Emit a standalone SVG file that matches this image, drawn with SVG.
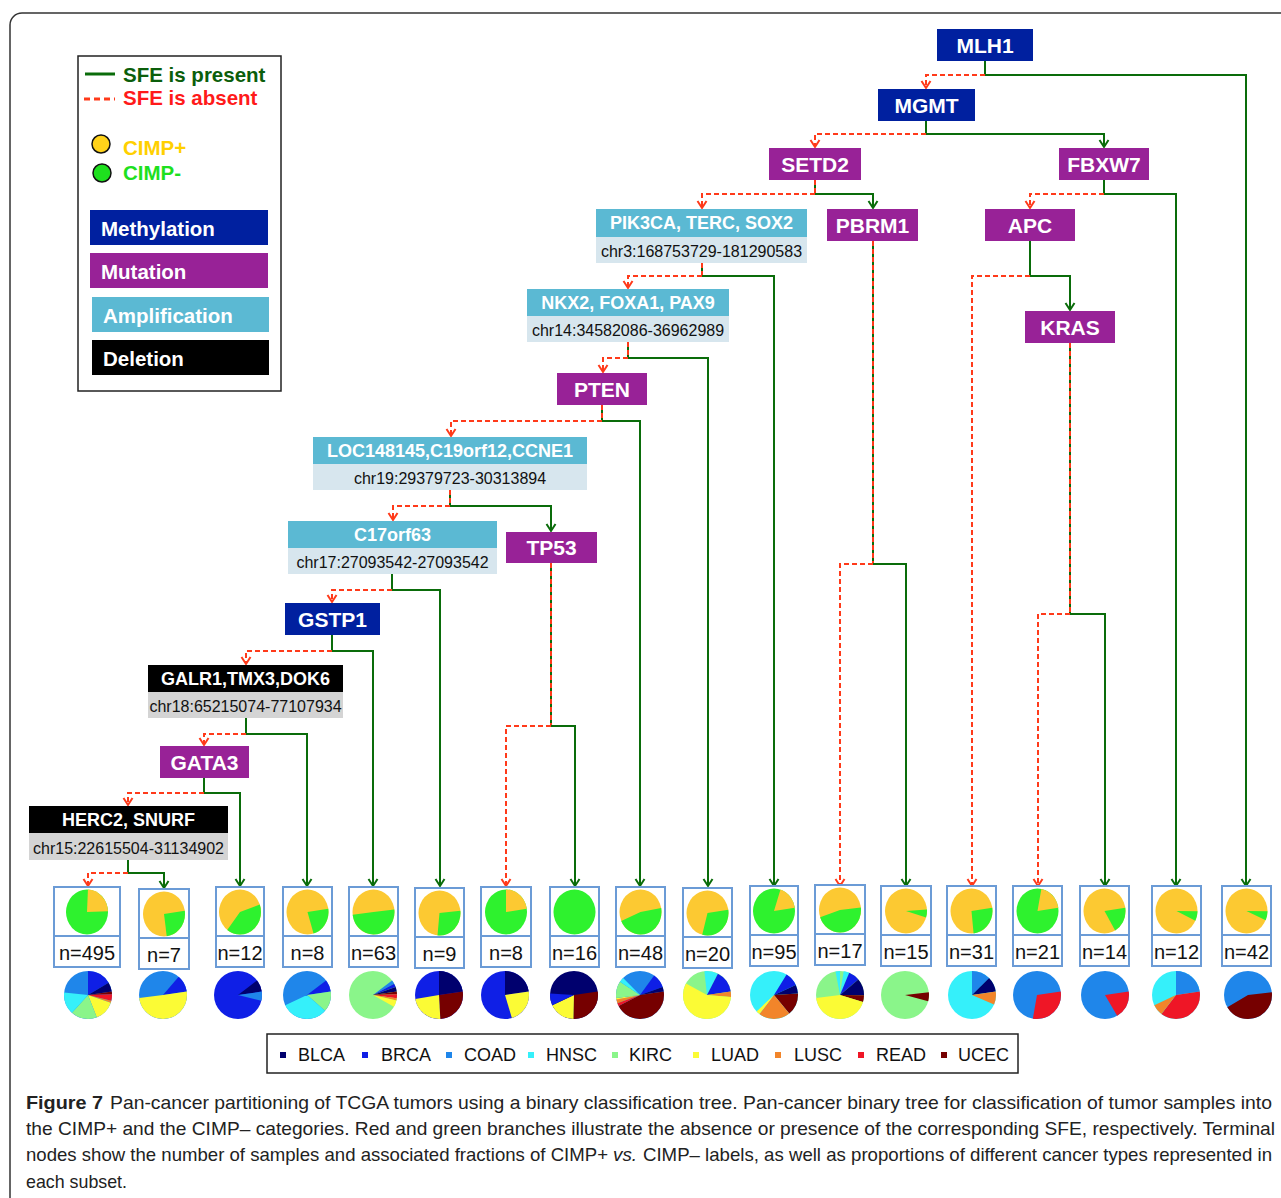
<svg xmlns="http://www.w3.org/2000/svg" width="1281" height="1198" viewBox="0 0 1281 1198">
<defs>
<style>
text{font-family:"Liberation Sans",Arial,Helvetica,sans-serif}
.nt{font-weight:bold;font-size:21px;fill:#fff;text-anchor:middle}
.ht{font-weight:bold;font-size:18px;fill:#fff;text-anchor:middle}
.ct{font-size:16px;fill:#111;text-anchor:middle}
.meth{fill:#00209f}.mut{fill:#982297}.amp{fill:#5bb9d3}.ampl{fill:#d7e6ee}.del{fill:#000}.dell{fill:#d4d4d4}
.g{fill:none;stroke:#0a6c0a;stroke-width:2}
.r{fill:none;stroke:#ff3a1a;stroke-width:2;stroke-dasharray:5 3}
.lb{fill:#fff;stroke:#6b9bd6;stroke-width:2}
.nl{font-size:20px;fill:#111;text-anchor:middle}
.s{fill:none;stroke-width:1}
.bl{stroke:#00006e}.br{stroke:#0f1fe6}.co{stroke:#1f86ea}.hn{stroke:#35f0fa}.ki{stroke:#8af58a}.lu{stroke:#fbfb35}.ls{stroke:#f2852a}.re{stroke:#ef1626}.uc{stroke:#760000}.cy{stroke:#fcc932}.cg{stroke:#2ef22e}
.lg{font-size:18px;fill:#111}
.cap{font-size:18.5px;fill:#222}
</style>
<marker id="ag" markerUnits="userSpaceOnUse" markerWidth="10" markerHeight="12" viewBox="-8 -6 10 12" refX="0" refY="0" orient="auto"><path d="M-7,-4.5 L0,0 L-7,4.5" fill="none" stroke="#0a6c0a" stroke-width="2"/></marker>
<marker id="ar" markerUnits="userSpaceOnUse" markerWidth="10" markerHeight="12" viewBox="-8 -6 10 12" refX="0" refY="0" orient="auto"><path d="M-7,-4.5 L0,0 L-7,4.5" fill="none" stroke="#ff3a1a" stroke-width="2"/></marker>
</defs>
<rect width="1281" height="1198" fill="#fff"/>
<rect x="10" y="13" width="1300" height="1300" rx="12" fill="none" stroke="#333" stroke-width="1.5"/>

<g id="legend">
<rect x="78" y="56" width="203" height="335" fill="#fff" stroke="#222" stroke-width="1.5"/>
<line x1="85" y1="74" x2="115" y2="74" stroke="#0a6c0a" stroke-width="3"/>
<text x="123" y="82" font-size="20.5" font-weight="bold" fill="#0b5e0b">SFE is present</text>
<line x1="84" y1="99" x2="115" y2="99" stroke="#ff3a1a" stroke-width="3" stroke-dasharray="6 4"/>
<text x="123" y="105" font-size="20.5" font-weight="bold" fill="#ff1a1a">SFE is absent</text>
<circle cx="101" cy="144" r="9" fill="#ffd21a" stroke="#111" stroke-width="1.5"/>
<text x="123" y="155" font-size="20.5" font-weight="bold" fill="#ffd000">CIMP+</text>
<circle cx="102" cy="173" r="9" fill="#1ee01e" stroke="#111" stroke-width="1.5"/>
<text x="123" y="180" font-size="20.5" font-weight="bold" fill="#1ee01e">CIMP-</text>
<rect x="90" y="210" width="178" height="35" class="meth"/>
<text x="101" y="236" font-size="20.5" font-weight="bold" fill="#fff">Methylation</text>
<rect x="90" y="253" width="178" height="35" class="mut"/>
<text x="101" y="279" font-size="20.5" font-weight="bold" fill="#fff">Mutation</text>
<rect x="92" y="297" width="177" height="35" class="amp"/>
<text x="103" y="323" font-size="20.5" font-weight="bold" fill="#fff">Amplification</text>
<rect x="92" y="340" width="177" height="35" class="del"/>
<text x="103" y="366" font-size="20.5" font-weight="bold" fill="#fff">Deletion</text>
</g>

<g id="connectors">
<path class="g" d="M985,61 V75"/>
<path class="r" d="M985,75 H926 V88" marker-end="url(#ar)"/>
<path class="g" d="M985,75 H1246 V886" marker-end="url(#ag)"/>
<path class="g" d="M926,121 V134"/>
<path class="r" d="M926,134 H815 V147" marker-end="url(#ar)"/>
<path class="g" d="M926,134 H1104 V147" marker-end="url(#ag)"/>
<path class="g" d="M815,180 V194"/><path class="r" d="M815,180 V194"/>
<path class="r" d="M815,194 H702 V208" marker-end="url(#ar)"/>
<path class="g" d="M815,194 H873 V208" marker-end="url(#ag)"/>
<path class="g" d="M1104,180 V194"/>
<path class="r" d="M1104,194 H1030 V208" marker-end="url(#ar)"/>
<path class="g" d="M1104,194 H1176 V886" marker-end="url(#ag)"/>
<path class="g" d="M702,263 V276"/><path class="r" d="M702,263 V276"/>
<path class="r" d="M702,276 H628 V288" marker-end="url(#ar)"/>
<path class="g" d="M702,276 H774 V886" marker-end="url(#ag)"/>
<path class="g" d="M873,241 V564"/><path class="r" d="M873,241 V564"/>
<path class="r" d="M873,564 H840 V886" marker-end="url(#ar)"/>
<path class="g" d="M873,564 H906 V886" marker-end="url(#ag)"/>
<path class="g" d="M1030,241 V276"/>
<path class="r" d="M1030,276 H972 V886" marker-end="url(#ar)"/>
<path class="g" d="M1030,276 H1070 V310" marker-end="url(#ag)"/>
<path class="g" d="M1070,343 V614"/><path class="r" d="M1070,343 V614"/>
<path class="r" d="M1070,614 H1038 V886" marker-end="url(#ar)"/>
<path class="g" d="M1070,614 H1105 V886" marker-end="url(#ag)"/>
<path class="g" d="M628,342 V358"/><path class="r" d="M628,342 V358"/>
<path class="r" d="M628,358 H603 V372" marker-end="url(#ar)"/>
<path class="g" d="M628,358 H708 V886" marker-end="url(#ag)"/>
<path class="g" d="M602,405 V421"/><path class="r" d="M602,405 V421"/>
<path class="r" d="M602,421 H451 V436" marker-end="url(#ar)"/>
<path class="g" d="M602,421 H640 V886" marker-end="url(#ag)"/>
<path class="g" d="M450,490 V506"/><path class="r" d="M450,490 V506"/>
<path class="r" d="M450,506 H393 V520" marker-end="url(#ar)"/>
<path class="g" d="M450,506 H551 V531" marker-end="url(#ag)"/>
<path class="g" d="M551,563 V726"/><path class="r" d="M551,563 V726"/>
<path class="r" d="M551,726 H506 V886" marker-end="url(#ar)"/>
<path class="g" d="M551,726 H575 V886" marker-end="url(#ag)"/>
<path class="g" d="M392,574 V590"/>
<path class="r" d="M392,590 H332 V602" marker-end="url(#ar)"/>
<path class="g" d="M392,590 H440 V886" marker-end="url(#ag)"/>
<path class="g" d="M332,635 V651"/>
<path class="r" d="M332,651 H246 V664" marker-end="url(#ar)"/>
<path class="g" d="M332,651 H373 V886" marker-end="url(#ag)"/>
<path class="g" d="M246,718 V734"/>
<path class="r" d="M246,734 H204 V745" marker-end="url(#ar)"/>
<path class="g" d="M246,734 H307 V886" marker-end="url(#ag)"/>
<path class="g" d="M204,778 V793"/>
<path class="r" d="M204,793 H128 V805" marker-end="url(#ar)"/>
<path class="g" d="M204,793 H240 V886" marker-end="url(#ag)"/>
<path class="g" d="M128,860 V873"/>
<path class="r" d="M128,873 H88 V886" marker-end="url(#ar)"/>
<path class="g" d="M128,873 H164 V888" marker-end="url(#ag)"/>
</g>

<g id="n-MLH1"><rect x="937" y="29" width="96" height="32" class="meth"/><text x="985" y="53" class="nt">MLH1</text></g>
<g id="n-MGMT"><rect x="878" y="89" width="97" height="32" class="meth"/><text x="926.5" y="113" class="nt">MGMT</text></g>
<g id="n-SETD2"><rect x="769" y="148" width="92" height="32" class="mut"/><text x="815" y="172" class="nt">SETD2</text></g>
<g id="n-FBXW7"><rect x="1059" y="148" width="90" height="32" class="mut"/><text x="1104" y="172" class="nt">FBXW7</text></g>
<g id="n-PIK3CA"><rect x="596" y="209" width="211" height="28" class="amp"/><rect x="596" y="237" width="211" height="26" class="ampl"/><text x="701.5" y="229" class="ht">PIK3CA, TERC, SOX2</text><text x="701.5" y="257" class="ct">chr3:168753729-181290583</text></g>
<g id="n-PBRM1"><rect x="827" y="209" width="91" height="32" class="mut"/><text x="872.5" y="233" class="nt">PBRM1</text></g>
<g id="n-APC"><rect x="985" y="209" width="90" height="32" class="mut"/><text x="1030" y="233" class="nt">APC</text></g>
<g id="n-KRAS"><rect x="1025" y="311" width="90" height="32" class="mut"/><text x="1070" y="335" class="nt">KRAS</text></g>
<g id="n-NKX2"><rect x="527" y="289" width="202" height="27" class="amp"/><rect x="527" y="316" width="202" height="26" class="ampl"/><text x="628" y="309" class="ht">NKX2, FOXA1, PAX9</text><text x="628" y="336" class="ct">chr14:34582086-36962989</text></g>
<g id="n-PTEN"><rect x="557" y="373" width="90" height="32" class="mut"/><text x="602" y="397" class="nt">PTEN</text></g>
<g id="n-LOC"><rect x="313" y="437" width="274" height="27" class="amp"/><rect x="313" y="464" width="274" height="26" class="ampl"/><text x="450" y="457" class="ht">LOC148145,C19orf12,CCNE1</text><text x="450" y="484" class="ct">chr19:29379723-30313894</text></g>
<g id="n-TP53"><rect x="506" y="532" width="91" height="31" class="mut"/><text x="551.5" y="555" class="nt">TP53</text></g>
<g id="n-C17orf63"><rect x="288" y="521" width="209" height="27" class="amp"/><rect x="288" y="548" width="209" height="26" class="ampl"/><text x="392.5" y="541" class="ht">C17orf63</text><text x="392.5" y="568" class="ct">chr17:27093542-27093542</text></g>
<g id="n-GSTP1"><rect x="285" y="603" width="95" height="32" class="meth"/><text x="332.5" y="627" class="nt">GSTP1</text></g>
<g id="n-GALR1"><rect x="148" y="665" width="195" height="27" class="del"/><rect x="148" y="692" width="195" height="26" class="dell"/><text x="245.5" y="685" class="ht">GALR1,TMX3,DOK6</text><text x="245.5" y="712" class="ct">chr18:65215074-77107934</text></g>
<g id="n-GATA3"><rect x="160" y="746" width="89" height="32" class="mut"/><text x="204.5" y="770" class="nt">GATA3</text></g>
<g id="n-HERC2"><rect x="29" y="806" width="199" height="27" class="del"/><rect x="29" y="833" width="199" height="27" class="dell"/><text x="128.5" y="826" class="ht">HERC2, SNURF</text><text x="128.5" y="854" class="ct">chr15:22615504-31134902</text></g>

<g id="leaf1"><rect x="54" y="887" width="66" height="49" class="lb"/><rect x="54" y="936" width="66" height="31" class="lb"/>
<g transform="translate(87,912) scale(21,22.5) rotate(-90)"><circle r="1" fill="#2ef22e"/><circle r="0.5" pathLength="100" class="s cy" stroke-dasharray="26.11 100" stroke-dashoffset="-0.83"/></g>
<text x="87" y="960" class="nl">n=495</text>
<g transform="translate(88,995) scale(24) rotate(-90)"><circle r="1" fill="#1f86ea"/>
<circle r="0.5" pathLength="100" class="s br" stroke-dasharray="18.06 100" stroke-dashoffset="0"/>
<circle r="0.5" pathLength="100" class="s bl" stroke-dasharray="6.94 100" stroke-dashoffset="-18.06"/>
<circle r="0.5" pathLength="100" class="s uc" stroke-dasharray="1.94 100" stroke-dashoffset="-25"/>
<circle r="0.5" pathLength="100" class="s re" stroke-dasharray="5 100" stroke-dashoffset="-26.94"/>
<circle r="0.5" pathLength="100" class="s ls" stroke-dasharray="1.39 100" stroke-dashoffset="-31.94"/>
<circle r="0.5" pathLength="100" class="s lu" stroke-dasharray="15.28 100" stroke-dashoffset="-33.33"/>
<circle r="0.5" pathLength="100" class="s ki" stroke-dasharray="19.44 100" stroke-dashoffset="-48.61"/>
<circle r="0.5" pathLength="100" class="s hn" stroke-dasharray="16.67 100" stroke-dashoffset="-68.06"/></g></g>

<g id="leaf2"><rect x="139" y="889" width="50" height="49" class="lb"/><rect x="139" y="938" width="50" height="31" class="lb"/>
<g transform="translate(164,914) scale(21,22.5) rotate(-90)"><circle r="1" fill="#fcc932"/><circle r="0.5" pathLength="100" class="s cg" stroke-dasharray="27.78 100" stroke-dashoffset="-25"/></g>
<text x="164" y="962" class="nl">n=7</text>
<g transform="translate(163,995) scale(24) rotate(-90)"><circle r="1" fill="#1f86ea"/>
<circle r="0.5" pathLength="100" class="s br" stroke-dasharray="12.5 100" stroke-dashoffset="-12.5"/>
<circle r="0.5" pathLength="100" class="s lu" stroke-dasharray="55.56 100" stroke-dashoffset="-25"/></g></g>

<g id="leaf3"><rect x="216" y="887" width="48" height="49" class="lb"/><rect x="216" y="936" width="48" height="31" class="lb"/>
<g transform="translate(240,912) scale(21,22.5) rotate(-90)"><circle r="1" fill="#fcc932"/><circle r="0.5" pathLength="100" class="s cg" stroke-dasharray="45 100" stroke-dashoffset="-21.67"/></g>
<text x="240" y="960" class="nl">n=12</text>
<g transform="translate(238,995) scale(24) rotate(-90)"><circle r="1" fill="#0f1fe6"/>
<circle r="0.5" pathLength="100" class="s bl" stroke-dasharray="8.89 100" stroke-dashoffset="-16.11"/>
<circle r="0.5" pathLength="100" class="s co" stroke-dasharray="6.94 100" stroke-dashoffset="-25"/></g></g>

<g id="leaf4"><rect x="283" y="887" width="49" height="49" class="lb"/><rect x="283" y="936" width="49" height="31" class="lb"/>
<g transform="translate(307.5,912) scale(21,22.5) rotate(-90)"><circle r="1" fill="#fcc932"/><circle r="0.5" pathLength="100" class="s cg" stroke-dasharray="25 100" stroke-dashoffset="-25"/></g>
<text x="307.5" y="960" class="nl">n=8</text>
<g transform="translate(307,995) scale(24) rotate(-90)"><circle r="1" fill="#1f86ea"/>
<circle r="0.5" pathLength="100" class="s br" stroke-dasharray="8.89 100" stroke-dashoffset="-16.11"/>
<circle r="0.5" pathLength="100" class="s ki" stroke-dasharray="15.28 100" stroke-dashoffset="-25"/>
<circle r="0.5" pathLength="100" class="s hn" stroke-dasharray="34.72 100" stroke-dashoffset="-40.28"/></g></g>

<g id="leaf5"><rect x="349" y="887" width="49" height="49" class="lb"/><rect x="349" y="936" width="49" height="31" class="lb"/>
<g transform="translate(373.5,912) scale(21,22.5) rotate(-90)"><circle r="1" fill="#fcc932"/><circle r="0.5" pathLength="100" class="s cg" stroke-dasharray="55 100" stroke-dashoffset="-25.56"/></g>
<text x="373.5" y="960" class="nl">n=63</text>
<g transform="translate(373,995) scale(24) rotate(-90)"><circle r="1" fill="#8af58a"/>
<circle r="0.5" pathLength="100" class="s co" stroke-dasharray="2.78 100" stroke-dashoffset="-16.11"/>
<circle r="0.5" pathLength="100" class="s br" stroke-dasharray="2.78 100" stroke-dashoffset="-18.89"/>
<circle r="0.5" pathLength="100" class="s bl" stroke-dasharray="3.33 100" stroke-dashoffset="-21.67"/>
<circle r="0.5" pathLength="100" class="s uc" stroke-dasharray="1.94 100" stroke-dashoffset="-25"/>
<circle r="0.5" pathLength="100" class="s re" stroke-dasharray="3.06 100" stroke-dashoffset="-26.94"/>
<circle r="0.5" pathLength="100" class="s ls" stroke-dasharray="1.67 100" stroke-dashoffset="-30"/>
<circle r="0.5" pathLength="100" class="s lu" stroke-dasharray="5 100" stroke-dashoffset="-31.67"/></g></g>

<g id="leaf6"><rect x="415" y="888" width="49" height="49" class="lb"/><rect x="415" y="937" width="49" height="31" class="lb"/>
<g transform="translate(439.5,913) scale(21,22.5) rotate(-90)"><circle r="1" fill="#fcc932"/><circle r="0.5" pathLength="100" class="s cg" stroke-dasharray="31.11 100" stroke-dashoffset="-25.83"/></g>
<text x="439.5" y="961" class="nl">n=9</text>
<g transform="translate(439,995) scale(24) rotate(-90)"><circle r="1" fill="#0f1fe6"/>
<circle r="0.5" pathLength="100" class="s bl" stroke-dasharray="25 100" stroke-dashoffset="0"/>
<circle r="0.5" pathLength="100" class="s uc" stroke-dasharray="29.17 100" stroke-dashoffset="-25"/>
<circle r="0.5" pathLength="100" class="s lu" stroke-dasharray="25.56 100" stroke-dashoffset="-54.17"/></g></g>

<g id="leaf7"><rect x="481" y="887" width="50" height="49" class="lb"/><rect x="481" y="936" width="50" height="31" class="lb"/>
<g transform="translate(506,912) scale(21,22.5) rotate(-90)"><circle r="1" fill="#2ef22e"/><circle r="0.5" pathLength="100" class="s cy" stroke-dasharray="25 100" stroke-dashoffset="0"/></g>
<text x="506" y="960" class="nl">n=8</text>
<g transform="translate(505,995) scale(24) rotate(-90)"><circle r="1" fill="#0f1fe6"/>
<circle r="0.5" pathLength="100" class="s bl" stroke-dasharray="25 100" stroke-dashoffset="0"/>
<circle r="0.5" pathLength="100" class="s lu" stroke-dasharray="25 100" stroke-dashoffset="-25"/></g></g>

<g id="leaf8"><rect x="550" y="887" width="49" height="49" class="lb"/><rect x="550" y="936" width="49" height="31" class="lb"/>
<g transform="translate(574.5,912) scale(21,22.5) rotate(-90)"><circle r="1" fill="#2ef22e"/></g>
<text x="574.5" y="960" class="nl">n=16</text>
<g transform="translate(574,995) scale(24) rotate(-90)"><circle r="1" fill="#00006e"/>
<circle r="0.5" pathLength="100" class="s uc" stroke-dasharray="30.56 100" stroke-dashoffset="-25"/>
<circle r="0.5" pathLength="100" class="s lu" stroke-dasharray="19.44 100" stroke-dashoffset="-55.56"/>
<circle r="0.5" pathLength="100" class="s br" stroke-dasharray="8.89 100" stroke-dashoffset="-75"/></g></g>

<g id="leaf9"><rect x="616" y="887" width="49" height="49" class="lb"/><rect x="616" y="936" width="49" height="31" class="lb"/>
<g transform="translate(640.5,912) scale(21,22.5) rotate(-90)"><circle r="1" fill="#fcc932"/><circle r="0.5" pathLength="100" class="s cg" stroke-dasharray="51.11 100" stroke-dashoffset="-24.44"/></g>
<text x="640.5" y="960" class="nl">n=48</text>
<g transform="translate(640,995) scale(24) rotate(-90)"><circle r="1" fill="#1f86ea"/>
<circle r="0.5" pathLength="100" class="s br" stroke-dasharray="10.56 100" stroke-dashoffset="-11.11"/>
<circle r="0.5" pathLength="100" class="s bl" stroke-dasharray="3.33 100" stroke-dashoffset="-21.67"/>
<circle r="0.5" pathLength="100" class="s uc" stroke-dasharray="49.44 100" stroke-dashoffset="-25"/>
<circle r="0.5" pathLength="100" class="s re" stroke-dasharray="2.22 100" stroke-dashoffset="-74.44"/>
<circle r="0.5" pathLength="100" class="s ls" stroke-dasharray="2.78 100" stroke-dashoffset="-76.67"/>
<circle r="0.5" pathLength="100" class="s lu" stroke-dasharray="1.11 100" stroke-dashoffset="-79.44"/>
<circle r="0.5" pathLength="100" class="s ki" stroke-dasharray="12.5 100" stroke-dashoffset="-80.56"/>
<circle r="0.5" pathLength="100" class="s hn" stroke-dasharray="3.61 100" stroke-dashoffset="-93.06"/></g></g>

<g id="leaf10"><rect x="683" y="888" width="49" height="49" class="lb"/><rect x="683" y="937" width="49" height="31" class="lb"/>
<g transform="translate(707.5,913) scale(21,22.5) rotate(-90)"><circle r="1" fill="#fcc932"/><circle r="0.5" pathLength="100" class="s cg" stroke-dasharray="34.72 100" stroke-dashoffset="-25"/></g>
<text x="707.5" y="961" class="nl">n=20</text>
<g transform="translate(707,995) scale(24) rotate(-90)"><circle r="1" fill="#8af58a"/>
<circle r="0.5" pathLength="100" class="s hn" stroke-dasharray="8.33 100" stroke-dashoffset="0"/>
<circle r="0.5" pathLength="100" class="s br" stroke-dasharray="16.67 100" stroke-dashoffset="-8.33"/>
<circle r="0.5" pathLength="100" class="s ls" stroke-dasharray="4.17 100" stroke-dashoffset="-25"/>
<circle r="0.5" pathLength="100" class="s lu" stroke-dasharray="62.5 100" stroke-dashoffset="-29.17"/></g></g>

<g id="leaf11"><rect x="750" y="886" width="48" height="49" class="lb"/><rect x="750" y="935" width="48" height="31" class="lb"/>
<g transform="translate(774,911) scale(21,22.5) rotate(-90)"><circle r="1" fill="#2ef22e"/><circle r="0.5" pathLength="100" class="s cy" stroke-dasharray="19.44 100" stroke-dashoffset="-5.56"/></g>
<text x="774" y="959" class="nl">n=95</text>
<g transform="translate(774,995) scale(24) rotate(-90)"><circle r="1" fill="#35f0fa"/>
<circle r="0.5" pathLength="100" class="s br" stroke-dasharray="10.28 100" stroke-dashoffset="-9.72"/>
<circle r="0.5" pathLength="100" class="s bl" stroke-dasharray="6.39 100" stroke-dashoffset="-20"/>
<circle r="0.5" pathLength="100" class="s uc" stroke-dasharray="16.67 100" stroke-dashoffset="-26.39"/>
<circle r="0.5" pathLength="100" class="s ls" stroke-dasharray="23.61 100" stroke-dashoffset="-43.06"/>
<circle r="0.5" pathLength="100" class="s lu" stroke-dasharray="2.78 100" stroke-dashoffset="-66.67"/></g></g>

<g id="leaf12"><rect x="815" y="885" width="50" height="49" class="lb"/><rect x="815" y="934" width="50" height="31" class="lb"/>
<g transform="translate(840,910) scale(21,22.5) rotate(-90)"><circle r="1" fill="#fcc932"/><circle r="0.5" pathLength="100" class="s cg" stroke-dasharray="51.39 100" stroke-dashoffset="-25.56"/></g>
<text x="840" y="958" class="nl">n=17</text>
<g transform="translate(840,995) scale(24) rotate(-90)"><circle r="1" fill="#8af58a"/>
<circle r="0.5" pathLength="100" class="s hn" stroke-dasharray="4.17 100" stroke-dashoffset="-2.78"/>
<circle r="0.5" pathLength="100" class="s br" stroke-dasharray="8.33 100" stroke-dashoffset="-6.94"/>
<circle r="0.5" pathLength="100" class="s bl" stroke-dasharray="12.5 100" stroke-dashoffset="-15.28"/>
<circle r="0.5" pathLength="100" class="s uc" stroke-dasharray="5 100" stroke-dashoffset="-27.78"/>
<circle r="0.5" pathLength="100" class="s lu" stroke-dasharray="47.78 100" stroke-dashoffset="-32.78"/></g></g>

<g id="leaf13"><rect x="881" y="886" width="50" height="49" class="lb"/><rect x="881" y="935" width="50" height="31" class="lb"/>
<g transform="translate(906,911) scale(21,22.5) rotate(-90)"><circle r="1" fill="#fcc932"/><circle r="0.5" pathLength="100" class="s cg" stroke-dasharray="6.39 100" stroke-dashoffset="-26.39"/></g>
<text x="906" y="959" class="nl">n=15</text>
<g transform="translate(905,995) scale(24) rotate(-90)"><circle r="1" fill="#8af58a"/>
<circle r="0.5" pathLength="100" class="s uc" stroke-dasharray="6.67 100" stroke-dashoffset="-25.56"/></g></g>

<g id="leaf14"><rect x="947" y="886" width="49" height="49" class="lb"/><rect x="947" y="935" width="49" height="31" class="lb"/>
<g transform="translate(971.5,911) scale(21,22.5) rotate(-90)"><circle r="1" fill="#fcc932"/><circle r="0.5" pathLength="100" class="s cg" stroke-dasharray="28.33 100" stroke-dashoffset="-25"/></g>
<text x="971.5" y="959" class="nl">n=31</text>
<g transform="translate(972,995) scale(24) rotate(-90)"><circle r="1" fill="#35f0fa"/>
<circle r="0.5" pathLength="100" class="s co" stroke-dasharray="13.89 100" stroke-dashoffset="0"/>
<circle r="0.5" pathLength="100" class="s bl" stroke-dasharray="11.11 100" stroke-dashoffset="-13.89"/>
<circle r="0.5" pathLength="100" class="s ls" stroke-dasharray="9.72 100" stroke-dashoffset="-25"/></g></g>

<g id="leaf15"><rect x="1013" y="886" width="49" height="49" class="lb"/><rect x="1013" y="935" width="49" height="31" class="lb"/>
<g transform="translate(1037.5,911) scale(21,22.5) rotate(-90)"><circle r="1" fill="#2ef22e"/><circle r="0.5" pathLength="100" class="s cy" stroke-dasharray="21.67 100" stroke-dashoffset="-3.33"/></g>
<text x="1037.5" y="959" class="nl">n=21</text>
<g transform="translate(1037,995) scale(24) rotate(-90)"><circle r="1" fill="#1f86ea"/>
<circle r="0.5" pathLength="100" class="s re" stroke-dasharray="33.33 100" stroke-dashoffset="-25"/></g></g>

<g id="leaf16"><rect x="1080" y="886" width="49" height="49" class="lb"/><rect x="1080" y="935" width="49" height="31" class="lb"/>
<g transform="translate(1104.5,911) scale(21,22.5) rotate(-90)"><circle r="1" fill="#fcc932"/><circle r="0.5" pathLength="100" class="s cg" stroke-dasharray="20.83 100" stroke-dashoffset="-25"/></g>
<text x="1104.5" y="959" class="nl">n=14</text>
<g transform="translate(1105,995) scale(24) rotate(-90)"><circle r="1" fill="#1f86ea"/>
<circle r="0.5" pathLength="100" class="s re" stroke-dasharray="20.83 100" stroke-dashoffset="-25"/></g></g>

<g id="leaf17"><rect x="1152" y="886" width="49" height="49" class="lb"/><rect x="1152" y="935" width="49" height="31" class="lb"/>
<g transform="translate(1176.5,911) scale(21,22.5) rotate(-90)"><circle r="1" fill="#fcc932"/><circle r="0.5" pathLength="100" class="s cg" stroke-dasharray="7.78 100" stroke-dashoffset="-27.78"/></g>
<text x="1176.5" y="959" class="nl">n=12</text>
<g transform="translate(1176,995) scale(24) rotate(-90)"><circle r="1" fill="#35f0fa"/>
<circle r="0.5" pathLength="100" class="s co" stroke-dasharray="25 100" stroke-dashoffset="0"/>
<circle r="0.5" pathLength="100" class="s re" stroke-dasharray="41.67 100" stroke-dashoffset="-25"/>
<circle r="0.5" pathLength="100" class="s ls" stroke-dasharray="8.33 100" stroke-dashoffset="-66.67"/></g></g>

<g id="leaf18"><rect x="1222" y="886" width="49" height="49" class="lb"/><rect x="1222" y="935" width="49" height="31" class="lb"/>
<g transform="translate(1246.5,911) scale(21,22.5) rotate(-90)"><circle r="1" fill="#fcc932"/><circle r="0.5" pathLength="100" class="s cg" stroke-dasharray="7.22 100" stroke-dashoffset="-27.78"/></g>
<text x="1246.5" y="959" class="nl">n=42</text>
<g transform="translate(1248,995) scale(24) rotate(-90)"><circle r="1" fill="#1f86ea"/>
<circle r="0.5" pathLength="100" class="s uc" stroke-dasharray="47.78 100" stroke-dashoffset="-25.56"/></g></g>

<g id="cancer-legend">
<rect x="267" y="1034" width="751" height="39" fill="#fff" stroke="#222" stroke-width="1.5"/>
<rect x="280" y="1052" width="6" height="6" fill="#00006e"/><text x="298" y="1061" class="lg">BLCA</text>
<rect x="362" y="1052" width="6" height="6" fill="#0f1fe6"/><text x="381" y="1061" class="lg">BRCA</text>
<rect x="446" y="1052" width="6" height="6" fill="#1f86ea"/><text x="464" y="1061" class="lg">COAD</text>
<rect x="528" y="1052" width="6" height="6" fill="#35f0fa"/><text x="546" y="1061" class="lg">HNSC</text>
<rect x="612" y="1052" width="6" height="6" fill="#8af58a"/><text x="629" y="1061" class="lg">KIRC</text>
<rect x="693" y="1052" width="6" height="6" fill="#fbfb35"/><text x="711" y="1061" class="lg">LUAD</text>
<rect x="775" y="1052" width="6" height="6" fill="#f2852a"/><text x="794" y="1061" class="lg">LUSC</text>
<rect x="858" y="1052" width="6" height="6" fill="#ef1626"/><text x="876" y="1061" class="lg">READ</text>
<rect x="941" y="1052" width="6" height="6" fill="#760000"/><text x="958" y="1061" class="lg">UCEC</text>
</g>

<g id="caption">
<text x="26" y="1109" class="cap" font-weight="bold" fill="#111" textLength="77" lengthAdjust="spacingAndGlyphs">Figure 7</text>
<text x="110" y="1109" class="cap" textLength="1162" lengthAdjust="spacingAndGlyphs">Pan-cancer partitioning of TCGA tumors using a binary classification tree. Pan-cancer binary tree for classification of tumor samples into</text>
<text x="26" y="1135" class="cap" textLength="1249" lengthAdjust="spacingAndGlyphs">the CIMP+ and the CIMP– categories. Red and green branches illustrate the absence or presence of the corresponding SFE, respectively. Terminal</text>
<text x="26" y="1161" class="cap" textLength="582" lengthAdjust="spacingAndGlyphs">nodes show the number of samples and associated fractions of CIMP+</text>
<text x="613" y="1161" class="cap" font-style="italic" textLength="24" lengthAdjust="spacingAndGlyphs">vs.</text>
<text x="643" y="1161" class="cap" textLength="629" lengthAdjust="spacingAndGlyphs">CIMP– labels, as well as proportions of different cancer types represented in</text>
<text x="26" y="1188" class="cap" textLength="101" lengthAdjust="spacingAndGlyphs">each subset.</text>
</g>
</svg>
